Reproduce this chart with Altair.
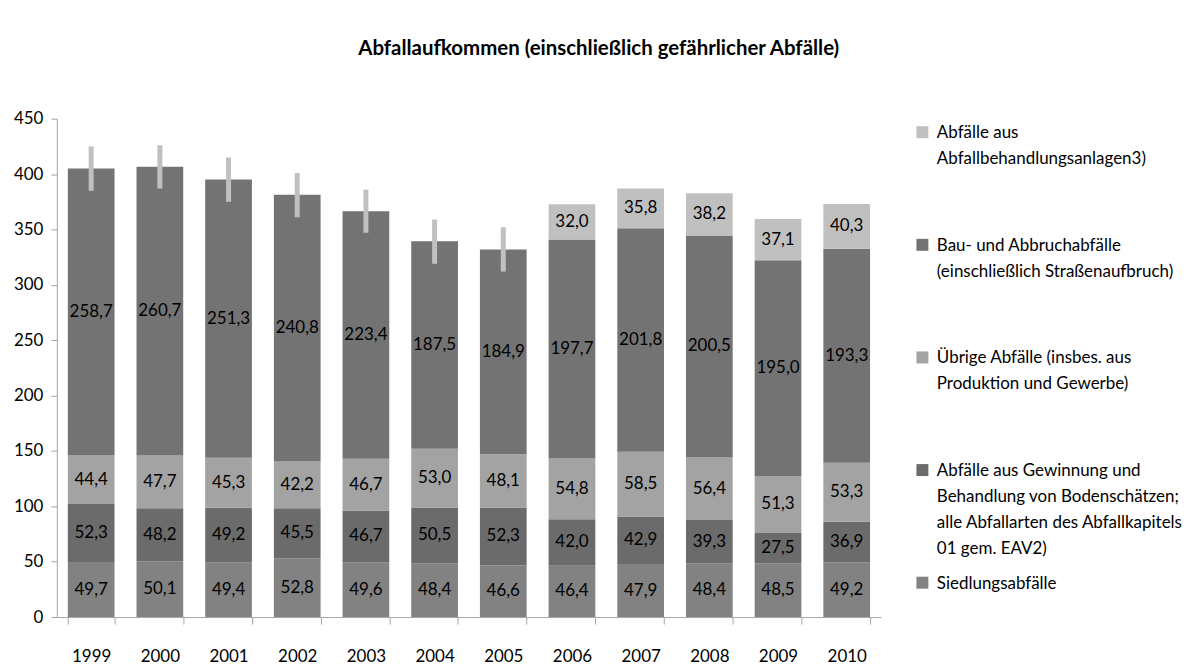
import altair as alt
import pandas as pd

years = ["1999", "2000", "2001", "2002", "2003", "2004", "2005", "2006", "2007", "2008", "2009", "2010"]
siedlung = [49.7, 50.1, 49.4, 52.8, 49.6, 48.4, 46.6, 46.4, 47.9, 48.4, 48.5, 49.2]
gewinnung = [52.3, 48.2, 49.2, 45.5, 46.7, 50.5, 52.3, 42.0, 42.9, 39.3, 27.5, 36.9]
uebrige = [44.4, 47.7, 45.3, 42.2, 46.7, 53.0, 48.1, 54.8, 58.5, 56.4, 51.3, 53.3]
bau = [258.7, 260.7, 251.3, 240.8, 223.4, 187.5, 184.9, 197.7, 201.8, 200.5, 195.0, 193.3]
behandlung = [None, None, None, None, None, None, None, 32.0, 35.8, 38.2, 37.1, 40.3]

whisker_years = ["1999", "2000", "2001", "2002", "2003", "2004", "2005"]
whisker_low = [385, 387, 375, 361, 347, 319, 312]
whisker_high = [425, 426, 415, 401, 386, 359, 352]

categories = [
    "Siedlungsabfälle",
    "Abfälle aus Gewinnung und\nBehandlung von Bodenschätzen;\nalle Abfallarten des Abfallkapitels\n01 gem. EAV2)",
    "Übrige Abfälle (insbes. aus\nProduktion und Gewerbe)",
    "Bau- und Abbruchabfälle\n(einschließlich Straßenaufbruch)",
    "Abfälle aus\nAbfallbehandlungsanlagen3)",
]
colors = ["#828282", "#6b6b6b", "#a3a3a3", "#737373", "#c0c0c0"]
series = [siedlung, gewinnung, uebrige, bau, behandlung]

rows = []
for ci, (cat, vals) in enumerate(zip(categories, series)):
    for y, v in zip(years, vals):
        if v is not None:
            rows.append({"year": y, "cat": cat, "order": ci, "value": v})
df = pd.DataFrame(rows)
wdf = pd.DataFrame({"year": whisker_years, "low": whisker_low, "high": whisker_high})

FONT = "Lato"

legend_domain = categories[::-1]
legend_range = colors[::-1]

base = alt.Chart(df).transform_stack(
    stack="value", as_=["y0", "y1"], groupby=["year"], sort=[alt.SortField("order", order="ascending")]
).transform_calculate(
    mid="(datum.y0 + datum.y1) / 2",
    lbl="replace(format(datum.value, '.1f'), '.', ',')",
)

xenc = alt.X(
    "year:N",
    sort=years,
    title=None,
    scale=alt.Scale(paddingInner=0.32, paddingOuter=0.16),
    axis=alt.Axis(
        labelAngle=0, labelFontSize=17, labelColor="#000000", labelFont=FONT,
        labelPadding=25, tickBand="extent", tickSize=7, domainColor="#a6a6a6",
        tickColor="#a6a6a6",
    ),
)

bars = base.mark_bar().encode(
    x=xenc,
    y=alt.Y(
        "y0:Q",
        title=None,
        scale=alt.Scale(domain=[0, 450]),
        axis=alt.Axis(
            values=list(range(0, 451, 50)), grid=False, labelFontSize=17,
            labelColor="#000000", labelFont=FONT, tickSize=6, labelPadding=8,
            domainColor="#a6a6a6", tickColor="#a6a6a6",
        ),
    ),
    y2="y1:Q",
    color=alt.Color(
        "cat:N",
        scale=alt.Scale(domain=legend_domain, range=legend_range),
        legend=alt.Legend(
            title=None,
            orient="none",
            legendX=860,
            legendY=11,
            labelExpr="split(datum.label, '\\n')",
            labelFontSize=17,
            labelFont=FONT,
            labelColor="#000000",
            labelLimit=0,
            labelBaseline="alphabetic",
            labelOffset=6,
            symbolType="M-1,-2L1,-2L1,0L-1,0Z",
            symbolSize=144,
            symbolStrokeWidth=0,
            gridAlign="all",
            rowPadding=17,
        ),
    ),
)

texts = base.mark_text(fontSize=17, font=FONT, color="#000000").encode(
    x=alt.X("year:N", sort=years),
    y="mid:Q",
    text="lbl:N",
)

whiskers = alt.Chart(wdf).mark_rule(color="#c0c0c0", strokeWidth=5).encode(
    x=alt.X("year:N", sort=years),
    y="low:Q",
    y2="high:Q",
)

chart = alt.layer(bars, whiskers, texts).properties(
    width=827,
    height=500,
    title=alt.TitleParams(
        "Abfallaufkommen (einschließlich gefährlicher Abfälle)",
        fontSize=20.5, font=FONT, fontWeight="bold", color="#000000",
        anchor="middle", frame="bounds", offset=50,
    ),
    padding={"top": 30, "left": 5, "right": 5, "bottom": 5},
).configure(
    style={"guide-label": {"lineHeight": 26}},
    view=alt.ViewConfig(stroke=None),
)

chart.save("out.html", embed_options={"renderer": "svg", "actions": False})
